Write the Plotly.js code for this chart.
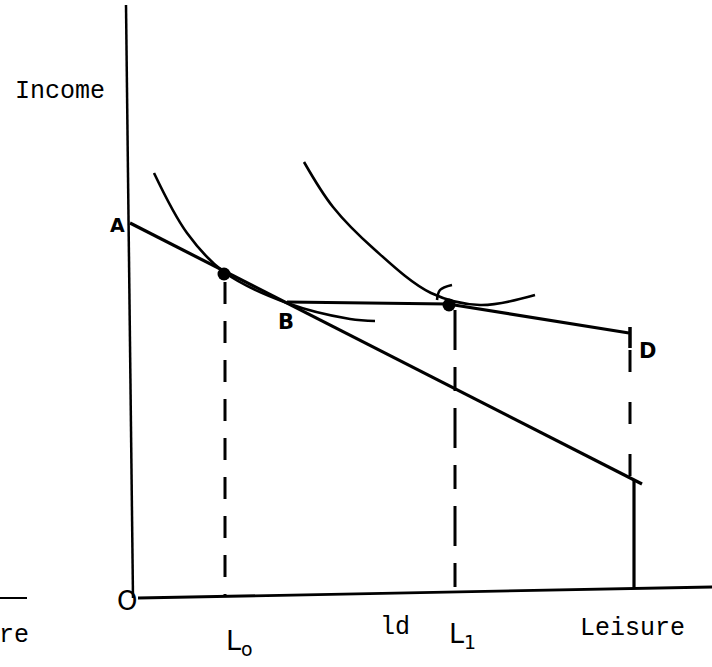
<!DOCTYPE html>
<html>
<head>
<meta charset="utf-8">
<script src="https://cdn.plot.ly/plotly-3.0.1.min.js"></script>
<style>html,body{margin:0;padding:0;background:#fff;}#chart{width:712px;height:667px;}</style>
</head>
<body>
<div id="chart"></div>
<script>
// Leisure (x) and income (y), origin at O
const incomeAxisX = [-6, 1];
const incomeAxisY = [593, 0];
const leisureAxisX = [6, 580];
const leisureAxisY = [0, 11];

// Original budget line A -> end at maximum leisure
const budgetX = [-2, 510];
const budgetY = [375, 114];

// Kinked (new) budget line B -> C -> D
const kinkX = [155, 316, 497];
const kinkY = [296, 294, 265];

// Indifference curves
const curve1X = [22, 55, 92, 155, 218, 243];
const curve1Y = [425, 365, 326, 295, 279, 277];
const curve2X = [172, 201, 242, 299, 348, 403];
const curve2Y = [436, 391, 349, 305, 293, 303];
const hookX = [305, 308, 320];
const hookY = [298, 308, 313];

// Equilibrium points
const pointX = [92, 317];
const pointY = [324, 293];

// Drop lines
const l0X = [93, 93], l0Y = [316, 1];
const l1X = [323, 323], l1Y = [288, 5];
const dDashX = [498, 498], dDashY = [248, 120];
const dTickX = [498, 498], dTickY = [271, 250];
const maxLeisureX = [502, 502], maxLeisureY = [118, 10];
const sideRuleX = [-132, -105], sideRuleY = [0, 0];

const K = '#000';
function line(x, y, w, dash, shape) {
  return {x: x, y: y, type: 'scatter', mode: 'lines',
    line: {color: K, width: w, dash: dash || 'solid', shape: shape || 'linear', smoothing: 1},
    hoverinfo: 'skip'};
}
const traces = [
  line(incomeAxisX, incomeAxisY, 2.5),
  line(leisureAxisX, leisureAxisY, 2.8),
  line(budgetX, budgetY, 3.2),
  line(kinkX, kinkY, 3.2),
  line(curve1X, curve1Y, 2.6, 'solid', 'spline'),
  line(curve2X, curve2Y, 2.6, 'solid', 'spline'),
  line(hookX, hookY, 2.6, 'solid', 'spline'),
  line(l0X, l0Y, 3, '22px,17px'),
  line(l1X, l1Y, 3, '40px,17px,24px,17px'),
  line(dDashX, dDashY, 3, '22px,30px'),
  line(dTickX, dTickY, 3.5),
  line(maxLeisureX, maxLeisureY, 3.2),
  line(sideRuleX, sideRuleY, 2),
  {x: pointX, y: pointY, type: 'scatter', mode: 'markers',
   marker: {color: K, size: 13}, hoverinfo: 'skip'}
];

const mono = {family: 'Liberation Mono, DejaVu Sans Mono, monospace', size: 25, color: K};
const hand = {family: 'DejaVu Sans, sans-serif', size: 21, color: K};
function note(text, x, y, font, xanchor) {
  return {text: text, x: x, y: y, xref: 'x', yref: 'y', showarrow: false,
    font: font, xanchor: xanchor || 'center', yanchor: 'middle'};
}
const layout = {
  width: 712, height: 667,
  margin: {l: 0, r: 0, t: 0, b: 0},
  paper_bgcolor: '#fff', plot_bgcolor: '#fff',
  showlegend: false, hovermode: false,
  xaxis: {range: [-132, 580], visible: false, fixedrange: true},
  yaxis: {range: [-69, 598], visible: false, fixedrange: true},
  annotations: [
    note('Income', -119, 507, mono, 'left'),
    note('<b>A</b>', -15, 373, Object.assign({}, hand, {size: 19})),
    note('<b>B</b>', 154, 276, hand),
    note('<b>D</b>', 515, 247, hand),
    note('O', -5, -3, {family: 'DejaVu Sans, sans-serif', size: 26, color: K}),
    note('L<sub>o</sub>', 107, -44, Object.assign({}, hand, {size: 27})),
    note('L<sub>1</sub>', 330, -37, Object.assign({}, hand, {size: 27})),
    note('ld', 263, -29, mono),
    note('Leisure', 500, -30, mono),
    note('re', -118, -37, mono)
  ]
};
Plotly.newPlot('chart', traces, layout, {staticPlot: true, displayModeBar: false});
</script>
</body>
</html>
